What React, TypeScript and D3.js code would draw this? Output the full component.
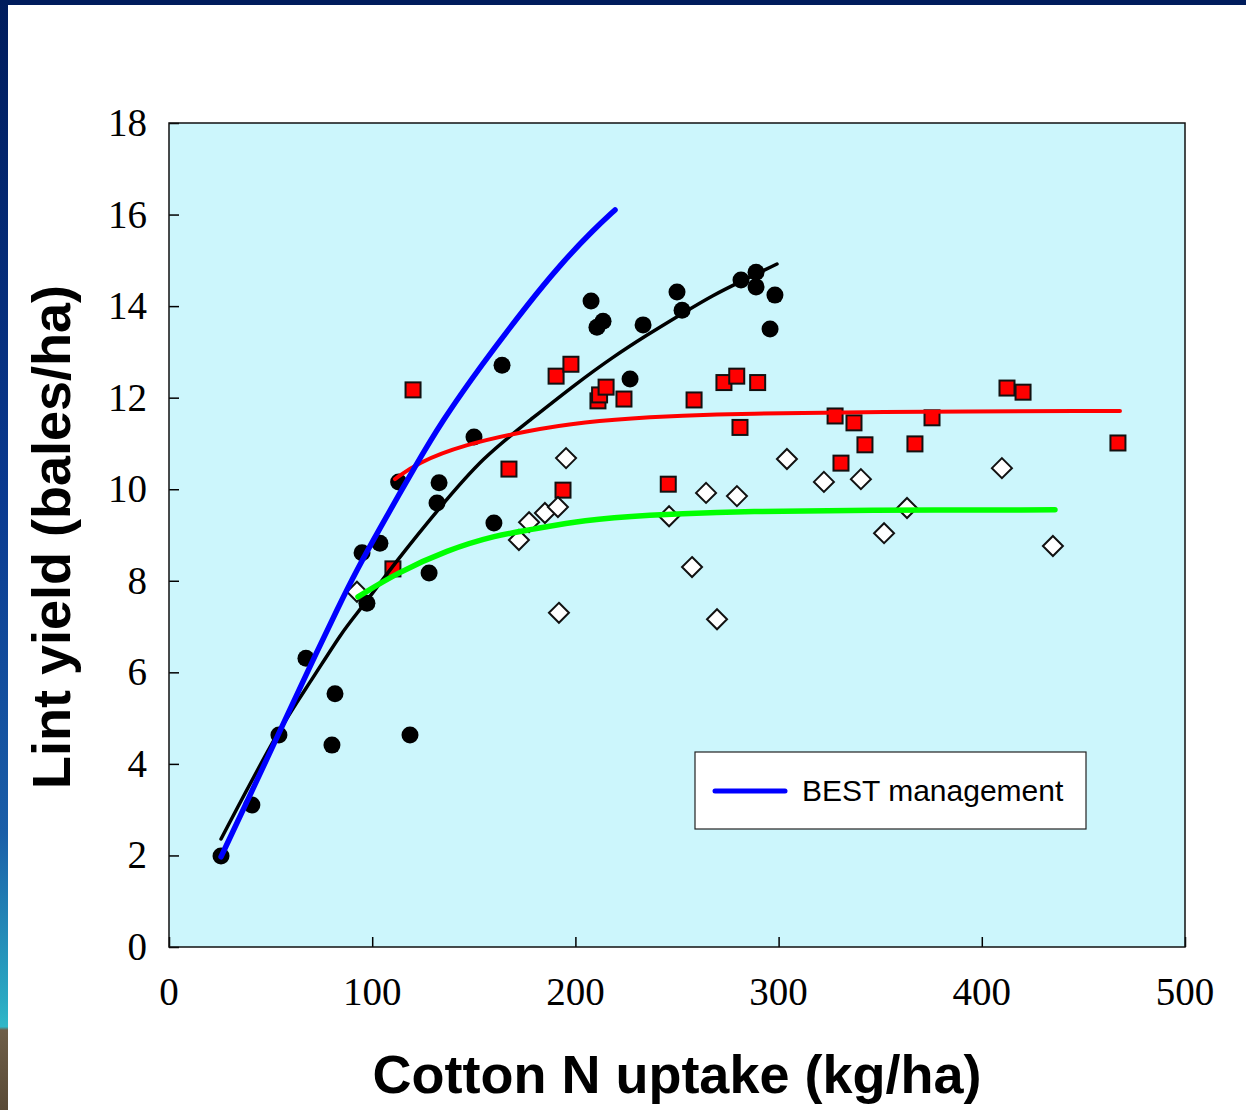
import { useEffect, useRef } from 'react'
import * as d3 from 'd3'

type Pt = [number, number]

// observed data (N uptake kg/ha, lint yield bales/ha)
const circles: Pt[] = [
  [25.6, 1.99], [40.8, 3.10], [54.1, 4.63], [67.4, 6.31], [80.2, 4.41], [81.7, 5.53],
  [95.0, 8.61], [97.4, 7.51], [103.8, 8.82], [113.0, 10.16], [118.6, 4.63], [128.0, 8.17],
  [131.9, 9.70], [132.9, 10.14], [150.1, 11.14], [159.9, 9.26], [163.9, 12.71],
  [207.7, 14.11], [210.6, 13.54], [213.6, 13.67], [226.9, 12.41], [233.3, 13.59],
  [250.0, 14.31], [252.5, 13.91], [281.5, 14.57], [288.9, 14.74], [288.9, 14.42],
  [295.8, 13.50], [298.2, 14.24],
]

const squares: Pt[] = [
  [120.1, 12.17], [110.2, 8.26], [167.3, 10.44], [190.5, 12.47], [197.8, 12.73],
  [193.9, 9.98], [211.1, 11.93], [211.9, 12.06], [215.1, 12.23], [223.9, 11.97],
  [245.7, 10.11], [258.4, 11.95], [273.1, 12.33], [279.4, 12.47], [289.7, 12.33],
  [281.0, 11.35], [327.8, 11.60], [337.1, 11.45], [342.5, 10.97], [330.7, 10.57],
  [367.1, 10.99], [375.5, 11.56], [412.4, 12.21], [420.3, 12.12], [467.0, 11.01],
]

const diamonds: Pt[] = [
  [92.5, 7.76], [172.2, 8.89], [177.2, 9.28], [185.0, 9.48], [191.4, 9.61],
  [191.9, 7.30], [195.4, 10.68], [246.1, 9.41], [257.4, 8.30], [264.3, 9.92],
  [269.7, 7.16], [279.5, 9.85], [304.1, 10.66], [322.3, 10.16], [340.5, 10.22],
  [351.9, 9.04], [363.2, 9.59], [409.9, 10.46], [435.0, 8.76],
]

// fitted curves
const bestCurve: Pt[] = [
  [25.6, 1.97], [41.3, 3.45], [54.6, 4.72], [67.9, 5.99], [84.2, 7.51], [92.5, 8.24],
  [102.4, 9.04], [122.0, 10.57], [134.8, 11.51], [149.6, 12.45], [159.4, 13.04],
  [176.2, 14.02], [192.4, 14.90], [208.7, 15.66], [219.5, 16.10],
]
const blackCurve: Pt[] = [
  [25.6, 2.36], [54.6, 4.81], [69.4, 5.77], [85.6, 6.92], [94.0, 7.36], [112.2, 8.45],
  [133.4, 9.61], [154.5, 10.70], [177.7, 11.51], [200.8, 12.32], [218.5, 12.89],
  [235.2, 13.37], [251.5, 13.81], [267.7, 14.24], [281.0, 14.53], [299.2, 14.92],
]
const redCurve: Pt[] = [
  [111.2, 10.22], [122.0, 10.57], [144.7, 10.97], [177.7, 11.29], [203.7, 11.47],
  [236.7, 11.58], [269.7, 11.64], [302.2, 11.66], [335.1, 11.69], [468.0, 11.71],
]
const greenCurve: Pt[] = [
  [93.0, 7.65], [112.2, 8.17], [136.8, 8.67], [161.4, 9.00], [177.7, 9.11],
  [203.7, 9.33], [236.7, 9.44], [269.7, 9.50], [302.2, 9.52], [335.1, 9.54], [436.0, 9.55],
]

const xTicks = [0, 100, 200, 300, 400, 500]
const yTicks = [0, 2, 4, 6, 8, 10, 12, 14, 16, 18]

const W = 1246
const H = 1110

export default function App() {
  const svgRef = useRef<SVGSVGElement>(null)

  useEffect(() => {
    if (!svgRef.current) return
    const svg = d3.select(svgRef.current)
    svg.selectAll('*').remove()

    const margin = { top: 123, right: 61, bottom: 163, left: 169 }
    const w = W - margin.left - margin.right
    const h = H - margin.top - margin.bottom

    // slide frame: top bar + left gradient strip
    const defs = svg.append('defs')
    const grad = defs.append('linearGradient').attr('id', 'strip')
      .attr('x1', 0).attr('y1', 0).attr('x2', 0).attr('y2', 1)
    const stops: [number, string][] = [
      [0, '#001c5c'], [0.45, '#0a3a90'], [0.75, '#1a5ea8'], [0.9, '#2aa8c2'],
      [0.925, '#30b8c8'], [0.928, '#6e5e48'], [1, '#5a4a36'],
    ]
    stops.forEach(([o, c]) => grad.append('stop').attr('offset', o).attr('stop-color', c))
    svg.append('rect').attr('width', W).attr('height', H).attr('fill', '#fff')
    svg.append('rect').attr('width', W).attr('height', 5).attr('fill', '#001c5c')
    svg.append('rect').attr('width', 8).attr('height', H).attr('fill', 'url(#strip)')

    const g = svg.append('g').attr('transform', `translate(${margin.left},${margin.top})`)

    const x = d3.scaleLinear().domain([0, 500]).range([0, w])
    const y = d3.scaleLinear().domain([0, 18]).range([h, 0])

    g.append('rect').attr('width', w).attr('height', h).attr('fill', '#ccf6fc')

    // inward ticks
    g.append('g').attr('transform', `translate(0,${h})`)
      .call(d3.axisBottom(x).tickValues(xTicks).tickSize(-10).tickFormat(() => ''))
      .call(a => a.select('.domain').remove())
      .selectAll('line').attr('stroke', '#000').attr('stroke-width', 1.5)
    g.append('g')
      .call(d3.axisLeft(y).tickValues(yTicks).tickSize(-10).tickFormat(() => ''))
      .call(a => a.select('.domain').remove())
      .selectAll('line').attr('stroke', '#000').attr('stroke-width', 1.5)

    // tick labels
    g.selectAll('.xl').data(xTicks).join('text')
      .attr('x', d => x(d)).attr('y', h + 58)
      .attr('text-anchor', 'middle').attr('font-family', '"Liberation Serif", "Times New Roman", serif')
      .attr('font-size', 39).attr('fill', '#000').text(d => d)
    g.selectAll('.yl').data(yTicks).join('text')
      .attr('x', -22).attr('y', d => y(d) + 13)
      .attr('text-anchor', 'end').attr('font-family', '"Liberation Serif", "Times New Roman", serif')
      .attr('font-size', 39).attr('fill', '#000').text(d => d)

    // markers
    g.selectAll('.c').data(circles).join('circle')
      .attr('cx', d => x(d[0])).attr('cy', d => y(d[1])).attr('r', 8.5).attr('fill', '#000')

    const sq = 15
    g.selectAll('.s').data(squares).join('rect')
      .attr('x', d => x(d[0]) - sq / 2).attr('y', d => y(d[1]) - sq / 2)
      .attr('width', sq).attr('height', sq)
      .attr('fill', '#ff0000').attr('stroke', '#111').attr('stroke-width', 2)

    const dm = 10
    g.selectAll('.d').data(diamonds).join('path')
      .attr('d', d => {
        const cx = x(d[0]), cy = y(d[1])
        return `M${cx},${cy - dm}L${cx + dm},${cy}L${cx},${cy + dm}L${cx - dm},${cy}Z`
      })
      .attr('fill', '#fff').attr('stroke', '#111').attr('stroke-width', 2)

    // fitted curves
    const line = d3.line<Pt>().x(d => x(d[0])).y(d => y(d[1])).curve(d3.curveBasis)
    const curves: [Pt[], string, number][] = [
      [blackCurve, '#000', 3.5],
      [redCurve, '#ff0000', 4],
      [greenCurve, '#00ff00', 5.5],
      [bestCurve, '#0000ff', 5.5],
    ]
    curves.forEach(([pts, color, sw]) => {
      g.append('path').datum(pts)
        .attr('fill', 'none').attr('stroke', color).attr('stroke-width', sw)
        .attr('stroke-linecap', 'round').attr('d', line)
    })

    // plot frame
    g.append('rect').attr('width', w).attr('height', h)
      .attr('fill', 'none').attr('stroke', '#111').attr('stroke-width', 1.5)

    // legend
    const lg = svg.append('g').attr('transform', 'translate(695,752)')
    lg.append('rect').attr('width', 391).attr('height', 77)
      .attr('fill', '#fff').attr('stroke', '#222').attr('stroke-width', 1.2)
    lg.append('line').attr('x1', 20).attr('x2', 90).attr('y1', 39).attr('y2', 39)
      .attr('stroke', '#0000ff').attr('stroke-width', 5).attr('stroke-linecap', 'round')
    lg.append('text').attr('x', 107).attr('y', 49)
      .attr('font-family', '"Liberation Sans", Arial, sans-serif').attr('font-size', 30)
      .attr('fill', '#000').text('BEST management')

    // axis titles
    svg.append('text')
      .attr('x', 677).attr('y', 1093)
      .attr('text-anchor', 'middle').attr('font-family', '"Liberation Sans", Arial, sans-serif')
      .attr('font-weight', 'bold').attr('font-size', 54).attr('fill', '#000')
      .text('Cotton N uptake (kg/ha)')
    svg.append('text')
      .attr('transform', 'rotate(-90)')
      .attr('x', -537).attr('y', 70)
      .attr('text-anchor', 'middle').attr('font-family', '"Liberation Sans", Arial, sans-serif')
      .attr('font-weight', 'bold').attr('font-size', 54).attr('fill', '#000')
      .text('Lint yield (bales/ha)')
  }, [])

  return (
    <svg ref={svgRef} width={W} height={H}
      style={{ position: 'absolute', left: 0, top: 0, display: 'block' }} />
  )
}
